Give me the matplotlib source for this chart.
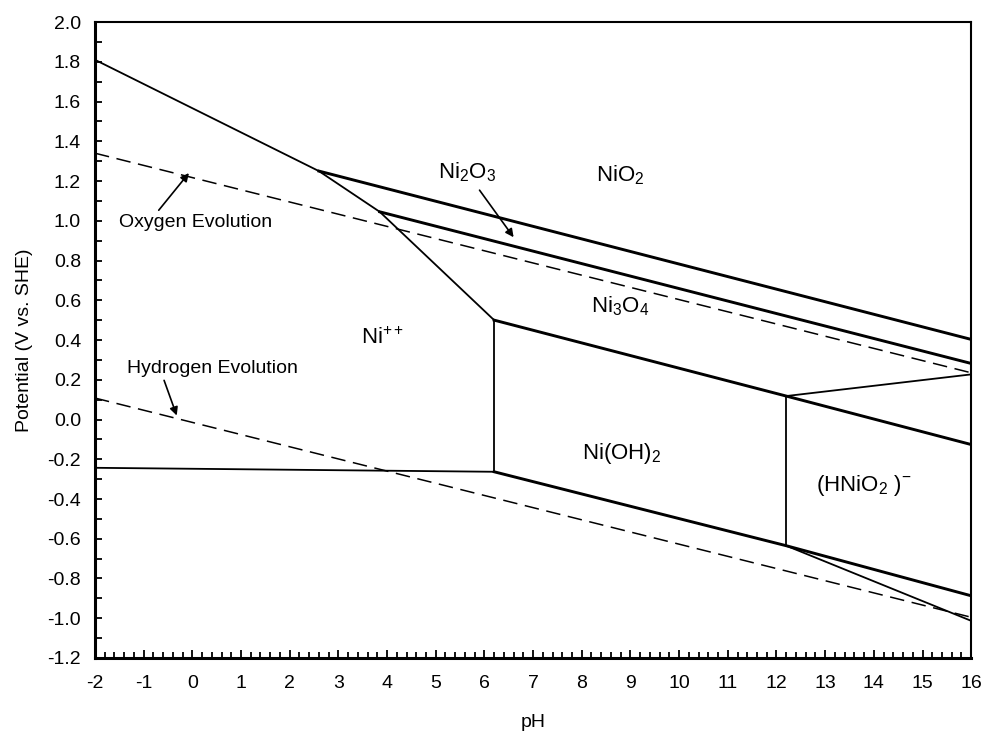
import matplotlib
matplotlib.use("Agg")
import matplotlib.pyplot as plt
from matplotlib.ticker import MultipleLocator, FormatStrFormatter

plt.rcParams['font.family'] = ['Liberation Sans', 'DejaVu Sans']
plt.rcParams['mathtext.fontset'] = 'custom'
plt.rcParams['mathtext.rm'] = 'Liberation Sans'
plt.rcParams['mathtext.it'] = 'Liberation Sans:italic'
plt.rcParams['axes.unicode_minus'] = False

# Pourbaix diagram of nickel, boundaries (pH, E in V vs SHE)
ni_upper_ph = [-2, 2.6, 3.85, 6.2]          # Ni++ upper boundary (thin)
ni_upper_e = [1.81, 1.25, 1.045, 0.50]
ni_lower_ph = [-2, 6.2]                     # Ni / Ni++ (thin, horizontal)
ni_lower_e = [-0.243, -0.263]
vert1_ph = [6.2, 6.2]                       # Ni++ / Ni(OH)2
vert1_e = [0.50, -0.263]
vert2_ph = [12.2, 12.2]                     # Ni(OH)2 / HNiO2-
vert2_e = [0.118, -0.635]

nio2_ph = [2.6, 16]                         # NiO2 / Ni2O3
nio2_e = [1.25, 0.403]
ni2o3_ph = [3.85, 16]                       # Ni2O3 / Ni3O4
ni2o3_e = [1.045, 0.282]
ni3o4_ph = [6.2, 12.2, 16]                  # Ni3O4 / Ni(OH)2, HNiO2-
ni3o4_e = [0.50, 0.118, -0.126]
hnio2_up_ph = [12.2, 16]                    # Ni3O4 / HNiO2- (thin)
hnio2_up_e = [0.118, 0.227]
nioh2_lo_ph = [6.2, 12.2, 16]               # Ni / Ni(OH)2, HNiO2-
nioh2_lo_e = [-0.263, -0.635, -0.887]
hnio2_lo_ph = [12.2, 16]                    # thin lower branch
hnio2_lo_e = [-0.635, -1.013]

o2_ph = [-2, 16]                            # oxygen evolution
o2_e = [1.34, 0.235]
h2_ph = [-2, 16]                            # hydrogen evolution
h2_e = [0.108, -0.995]

fig = plt.figure(figsize=(9.82, 7.44), dpi=100)
ax = fig.add_axes([0.0967, 0.1156, 0.8923, 0.8548])

thin = dict(color='black', lw=1.3, solid_joinstyle='miter')
thick = dict(color='black', lw=2.1, solid_joinstyle='miter')
dash = dict(color='black', lw=1.1, dashes=(9.5, 5))

ax.plot(ni_upper_ph, ni_upper_e, **thin)
ax.plot(ni_lower_ph, ni_lower_e, **thin)
ax.plot(vert1_ph, vert1_e, **thin)
ax.plot(vert2_ph, vert2_e, **thin)
ax.plot(hnio2_up_ph, hnio2_up_e, **thin)
ax.plot(hnio2_lo_ph, hnio2_lo_e, **thin)
ax.plot(nio2_ph, nio2_e, **thick)
ax.plot(ni2o3_ph, ni2o3_e, **thick)
ax.plot(ni3o4_ph, ni3o4_e, **thick)
ax.plot(nioh2_lo_ph, nioh2_lo_e, **thick)
ax.plot(o2_ph, o2_e, **dash)
ax.plot(h2_ph, h2_e, **dash)

# region labels
fs = 16
ax.text(8.78, 1.23, r'NiO$_2$', fontsize=fs, ha='center', va='center')
ax.text(5.64, 1.245, r'Ni$_2$O$_3$', fontsize=fs, ha='center', va='center')
ax.text(8.78, 0.57, r'Ni$_3$O$_4$', fontsize=fs, ha='center', va='center')
ax.text(3.9, 0.41, r'Ni$^{++}$', fontsize=fs, ha='center', va='center')
ax.text(8.82, -0.17, r'Ni(OH)$_2$', fontsize=fs, ha='center', va='center')
ax.text(13.8, -0.33, r'(HNiO$_2$ )$^{-}$', fontsize=fs, ha='center', va='center')

arw = dict(arrowstyle='-|>', color='black', lw=1.2, mutation_scale=12,
           shrinkA=0, shrinkB=0)
ax.annotate('', xy=(6.6, 0.917), xytext=(5.9, 1.154), arrowprops=arw)
ax.text(-1.51, 0.99, 'Oxygen Evolution', fontsize=14, ha='left', va='center')
ax.annotate('', xy=(-0.07, 1.24), xytext=(-0.69, 1.053), arrowprops=arw)
ax.text(-1.34, 0.257, 'Hydrogen Evolution', fontsize=14, ha='left', va='center')
ax.annotate('', xy=(-0.32, 0.02), xytext=(-0.58, 0.197), arrowprops=arw)

ax.set_xlim(-2, 16)
ax.set_ylim(-1.2, 2.0)
ax.xaxis.set_major_locator(MultipleLocator(1))
ax.xaxis.set_minor_locator(MultipleLocator(0.2))
ax.yaxis.set_major_locator(MultipleLocator(0.2))
ax.yaxis.set_minor_locator(MultipleLocator(0.1))
ax.yaxis.set_major_formatter(FormatStrFormatter('%.1f'))
ax.tick_params(which='both', direction='in', top=False, right=False,
               labelsize=14, width=1.3)
ax.tick_params(axis='x', which='major', length=6, pad=12)
ax.tick_params(axis='x', which='minor', length=4)
ax.tick_params(axis='y', which='both', length=5, pad=10)
ax.spines['left'].set_linewidth(2.2)
ax.spines['bottom'].set_linewidth(2.2)
ax.spines['top'].set_linewidth(1.5)
ax.spines['right'].set_linewidth(1.5)

ax.set_xlabel('pH', fontsize=14, labelpad=16)
ax.set_ylabel('Potential (V vs. SHE)', fontsize=14, labelpad=10)

fig.savefig('out.png', dpi=100)
